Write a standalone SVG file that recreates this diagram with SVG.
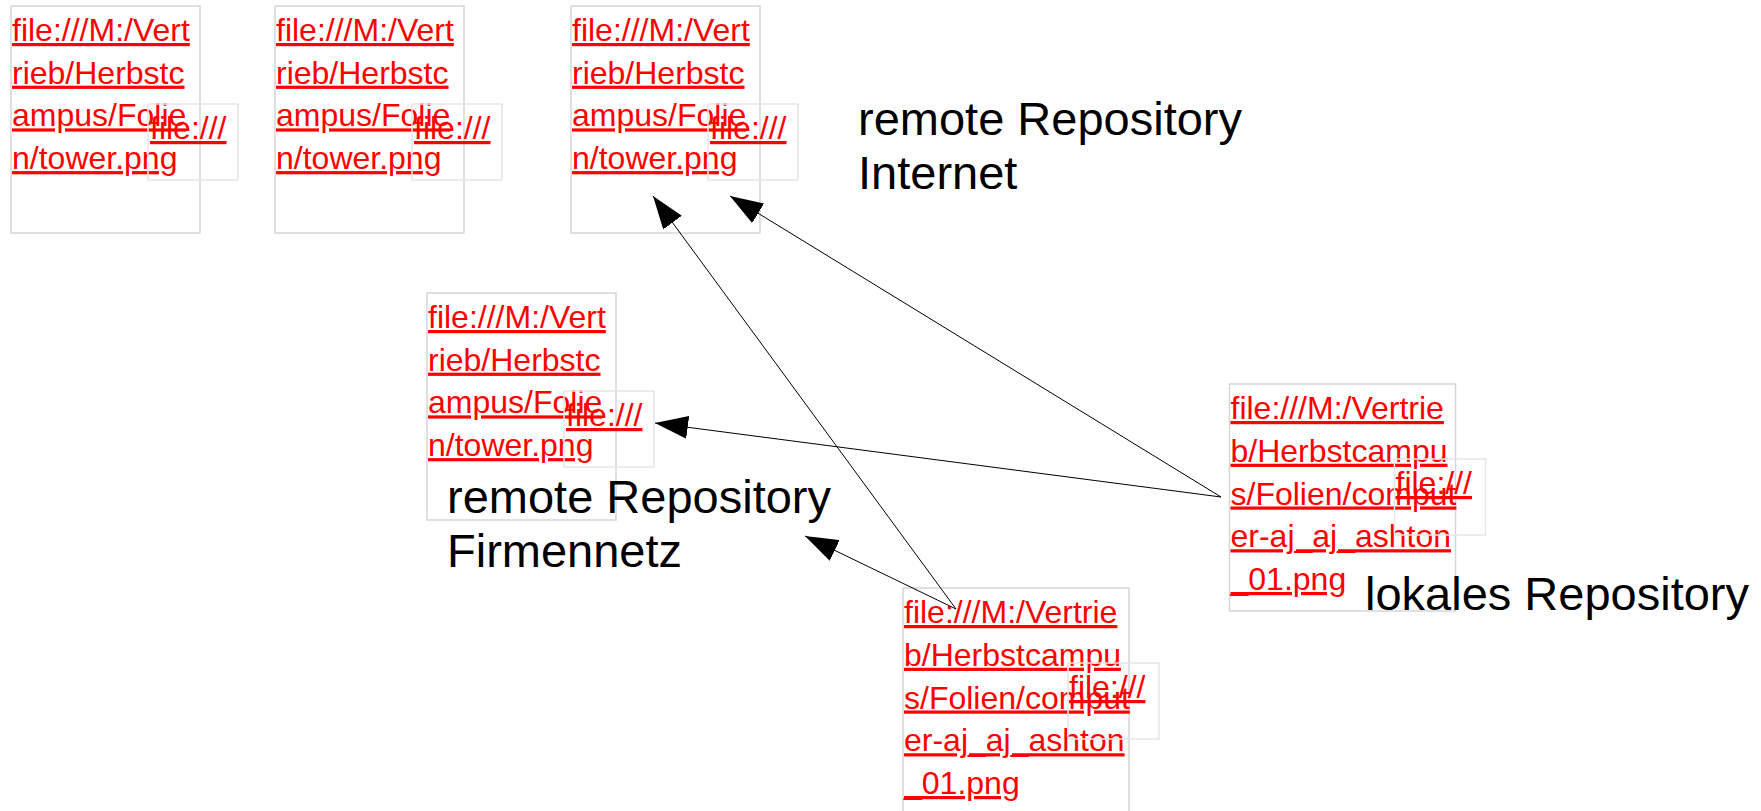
<svg xmlns="http://www.w3.org/2000/svg" width="1761" height="811" viewBox="0 0 1761 811">
<style>
.box{fill:none;stroke:#d6d6d6;stroke-width:1.5}
.sbox{fill:none;stroke:#e6e6e6;stroke-width:1.5}
.lnk{font-family:"Liberation Sans",Arial,sans-serif;font-size:32px;fill:#ff0000;text-decoration:underline}
.lbl{font-family:"Liberation Sans",Arial,sans-serif;font-size:47px;fill:#000000}
.con{stroke:#000000;stroke-width:1;fill:none;marker-end:url(#ah)}
</style>
<defs>
<marker id="ah" viewBox="0 0 33 23" refX="33" refY="11.5" markerWidth="33" markerHeight="23" markerUnits="userSpaceOnUse" orient="auto">
<path d="M0,0 L33,11.5 L0,23 z" fill="#000000"/>
</marker>
<g id="tower">
<rect class="box" x="0" y="0" width="189" height="227"/>
<text class="lnk" x="1" y="35">file:///M:/Vert</text>
<text class="lnk" x="1" y="77.7">rieb/Herbstc</text>
<text class="lnk" x="1" y="120.4">ampus/Folie</text>
<text class="lnk" x="1" y="163.1">n/tower.png</text>
<rect class="sbox" x="137" y="98" width="90" height="76"/>
<text class="lnk" x="139" y="133">file:///</text>
</g>
<g id="computer">
<rect class="box" x="0" y="0" width="226" height="227"/>
<text class="lnk" x="1" y="35">file:///M:/Vertrie</text>
<text class="lnk" x="1" y="77.75">b/Herbstcampu</text>
<text class="lnk" x="1" y="120.5">s/Folien/comput</text>
<text class="lnk" x="1" y="163.25">er-aj_aj_ashton</text>
<text class="lnk" x="1" y="206">_01.png</text>
<rect class="sbox" x="165" y="75" width="91" height="76"/>
<text class="lnk" x="166" y="110">file:///</text>
</g>
</defs>
<rect x="0" y="0" width="1761" height="811" fill="#ffffff"/>
<g id="node-tower1"><use href="#tower" x="11" y="6"/></g>
<g id="node-tower2"><use href="#tower" x="275" y="6"/></g>
<g id="node-tower3"><use href="#tower" x="571" y="6"/></g>
<g id="node-tower4"><use href="#tower" x="427" y="293"/></g>
<g id="node-computer1"><use href="#computer" x="1229.5" y="384"/></g>
<g id="node-computer2"><use href="#computer" x="903" y="588"/></g>
<g id="label-internet"><text class="lbl" x="858" y="135">remote Repository</text><text class="lbl" x="858" y="189">Internet</text></g>
<g id="label-firmennetz"><text class="lbl" x="447" y="513">remote Repository</text><text class="lbl" x="447" y="567">Firmennetz</text></g>
<g id="label-lokal"><text class="lbl" x="1365" y="610">lokales Repository</text></g>
<g id="connectors">
<line class="con" x1="1221" y1="497" x2="655" y2="423"/>
<line class="con" x1="1221" y1="497" x2="730" y2="196"/>
<line class="con" x1="956" y1="609" x2="653" y2="196"/>
<line class="con" x1="956" y1="609" x2="805" y2="536"/>
</g>
</svg>
